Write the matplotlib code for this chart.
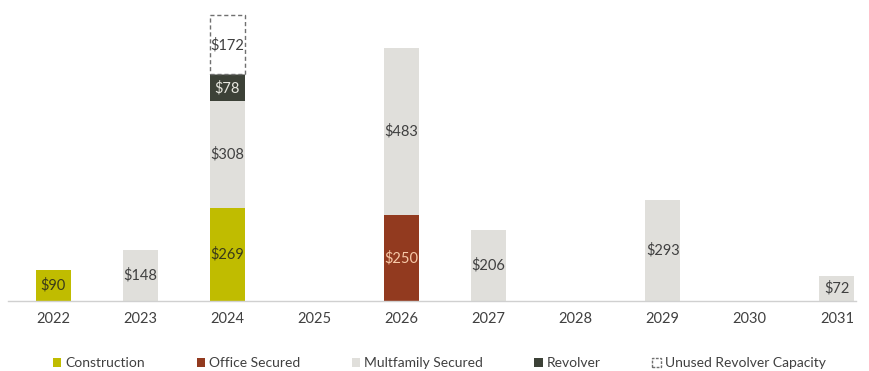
import matplotlib.pyplot as plt
from matplotlib.patches import Patch

years = ["2022", "2023", "2024", "2025", "2026", "2027", "2028", "2029", "2030", "2031"]
construction = [90, 0, 269, 0, 0, 0, 0, 0, 0, 0]
office = [0, 0, 0, 0, 250, 0, 0, 0, 0, 0]
multifamily = [0, 148, 308, 0, 483, 206, 0, 293, 0, 72]
revolver = [0, 0, 78, 0, 0, 0, 0, 0, 0, 0]
unused = [0, 0, 172, 0, 0, 0, 0, 0, 0, 0]

plt.rcParams["font.family"] = ["Lato", "DejaVu Sans"]

fig = plt.figure(figsize=(8.7, 3.71), dpi=100)
ax = fig.add_axes([8 / 870, 1 - 301 / 371, 848 / 870, 291 / 371])

x = list(range(len(years)))
width = 0.4
series = [
    ("Construction", construction, "#c0bc00", "#3a3a1a", None),
    ("Office Secured", office, "#923a1f", "#f7c9a8", None),
    ("Multfamily Secured", multifamily, "#e0dfdb", "#404040", None),
    ("Revolver", revolver, "#3c4137", "#e8e8e0", None),
    ("Unused Revolver Capacity", unused, "white", "#404040", "#707070"),
]

bottom = [0] * len(years)
for name, vals, color, tcolor, edge in series:
    # only draw segments that have a value, so empty years get no outline
    idx = [i for i, v in enumerate(vals) if v > 0]
    xs = [x[i] for i in idx]
    vs = [vals[i] for i in idx]
    bs = [bottom[i] for i in idx]
    if edge:
        ax.bar(xs, vs, width, bottom=bs, color=color,
               edgecolor=edge, linestyle=(0, (3, 2)), linewidth=1.0)
    else:
        ax.bar(xs, vs, width, bottom=bs, color=color, linewidth=0)
    for xi, v, b in zip(xs, vs, bs):
        ax.text(xi, b + v / 2, f"${v}", ha="center", va="center",
                fontsize=10.5, color=tcolor)
    bottom = [b + v for b, v in zip(bottom, vals)]

ax.set_xlim(-0.52, 9.22)
ax.set_ylim(0, 841.5)
ax.set_xticks(x)
ax.set_xticklabels(years, fontsize=10.5, color="#404040")
ax.tick_params(axis="x", length=0, pad=8)
ax.set_yticks([])
for s in ["top", "right", "left"]:
    ax.spines[s].set_visible(False)
ax.spines["bottom"].set_color("#d0d0d0")
ax.spines["bottom"].set_linewidth(1.0)

handles = [
    Patch(facecolor="#c0bc00", label="Construction"),
    Patch(facecolor="#923a1f", label="Office Secured"),
    Patch(facecolor="#e0dfdb", label="Multfamily Secured"),
    Patch(facecolor="#3c4137", label="Revolver"),
    Patch(facecolor="white", edgecolor="#707070", linestyle=(0, (2, 1)),
          label="Unused Revolver Capacity"),
]
fig.legend(handles=handles, loc="center", bbox_to_anchor=(0.505, 1 - 363 / 371),
           ncol=5, frameon=False, fontsize=10, handlelength=0.6, handleheight=0.6,
           handletextpad=0.3, columnspacing=3.7, labelcolor="#404040")

fig.savefig("out.png", dpi=100)
